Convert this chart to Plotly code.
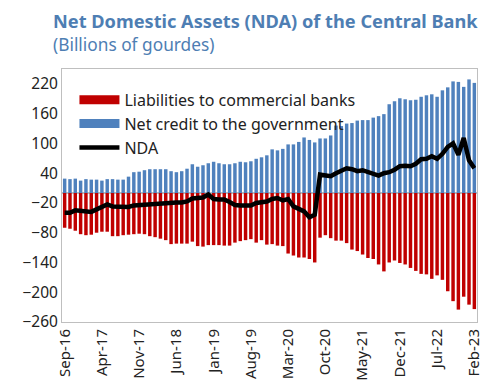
import pandas as pd
import plotly.graph_objects as go

months = pd.date_range("2016-09-01", "2023-02-01", freq="MS").strftime("%b-%y").tolist()

net_credit_gov = [29, 28, 29, 25, 28, 27, 27, 25, 28, 28, 27, 27, 33, 42, 43, 46, 48, 48, 48, 48,
                  44, 42, 44, 49, 58, 53, 56, 60, 63, 60, 58, 58, 60, 63, 62, 64, 69, 72, 76, 88,
                  86, 89, 98, 98, 103, 112, 107, 102, 110, 110, 116, 136, 135, 140, 141, 146, 147, 147, 152, 155,
                  159, 179, 185, 191, 189, 187, 188, 194, 197, 199, 194, 207, 213, 225, 224, 214, 229, 222]

liab_banks = [-70, -72, -76, -83, -85, -84, -80, -78, -78, -87, -87, -85, -84, -83, -82, -83, -87, -89, -92, -95,
              -103, -102, -102, -102, -98, -107, -108, -105, -105, -105, -106, -106, -100, -97, -95, -93, -100, -95, -104, -103,
              -106, -107, -122, -126, -130, -130, -133, -140, -90, -85, -91, -96, -96, -101, -114, -117, -124, -131, -133, -144,
              -158, -140, -136, -141, -144, -151, -157, -163, -164, -173, -166, -175, -198, -218, -235, -209, -225, -234]

nda = [-40, -40, -35, -36, -36, -38, -33, -29, -23, -27, -28, -27, -28, -25, -24, -23, -22, -21, -20, -20,
       -18, -19, -19, -17, -11, -10, -9, -3, -12, -13, -13, -18, -24, -25, -24, -25, -20, -18, -17, -12,
       -10, -15, -12, -27, -33, -37, -49, -44, 37, 35, 34, 40, 46, 50, 48, 44, 46, 42, 37, 35,
       40, 42, 47, 54, 55, 54, 59, 68, 69, 74, 69, 79, 93, 100, 77, 111, 66, 50]

tick_labels = ["Sep-16", "Apr-17", "Nov-17", "Jun-18", "Jan-19", "Aug-19", "Mar-20",
               "Oct-20", "May-21", "Dec-21", "Jul-22", "Feb-23"]
y_ticks = [220, 160, 100, 40, -20, -80, -140, -200, -260]

RED = "#c00000"
BLUE = "#4f81bd"
TITLE_C = "#4e7eb3"
FONT = "Noto Sans"

fig = go.Figure()
fig.add_trace(go.Bar(x=months, y=liab_banks, marker_color=RED, marker_line_width=0,
                     name="Liabilities to commercial banks", showlegend=False))
fig.add_trace(go.Bar(x=months, y=net_credit_gov, marker_color=BLUE, marker_line_width=0,
                     name="Net credit to the government", showlegend=False))
# legend proxies (wide swatches)
fig.add_trace(go.Scatter(x=[None], y=[None], mode="lines", line=dict(color=RED, width=9),
                         name="Liabilities to commercial banks"))
fig.add_trace(go.Scatter(x=[None], y=[None], mode="lines", line=dict(color=BLUE, width=9),
                         name="Net credit to the government"))
fig.add_trace(go.Scatter(x=months, y=nda, mode="lines", line=dict(color="black", width=4.5),
                         name="NDA"))

fig.update_layout(
    width=487, height=387,
    margin=dict(l=62, r=4, t=69, b=65),
    paper_bgcolor="white", plot_bgcolor="white",
    barmode="relative", bargap=0.35,
    font=dict(family=FONT, size=15, color="#222"),
    legend=dict(x=0.03, y=0.945, xanchor="left", yanchor="top",
                bgcolor="rgba(0,0,0,0)", font=dict(size=16, color="#222"),
                itemwidth=40, tracegroupgap=0),
    annotations=[
        dict(text="<b>Net Domestic Assets (NDA) of the Central Bank</b>", xref="paper", yref="paper",
             x=-0.026, y=1.19, xanchor="left", yanchor="middle", showarrow=False,
             font=dict(family=FONT, size=18.2, color=TITLE_C)),
        dict(text="(Billions of gourdes)", xref="paper", yref="paper",
             x=-0.026, y=1.095, xanchor="left", yanchor="middle", showarrow=False,
             font=dict(family=FONT, size=17.3, color=TITLE_C)),
    ],
)
fig.update_xaxes(type="category", tickmode="array", tickvals=tick_labels, ticktext=tick_labels,
                 tickangle=-90, showgrid=False, showline=True, mirror=True, linecolor="#bfbfbf",
                 linewidth=1, ticks="", tickfont=dict(size=15, color="#222"))
fig.update_yaxes(range=[-260, 250], tickmode="array", tickvals=y_ticks, showgrid=False,
                 showline=True, mirror=True, linecolor="#bfbfbf", linewidth=1,
                 zeroline=True, zerolinecolor="#bfbfbf", zerolinewidth=1.5,
                 ticks="", tickfont=dict(size=15.5, color="#222"))

fig.write_html("out.html")
